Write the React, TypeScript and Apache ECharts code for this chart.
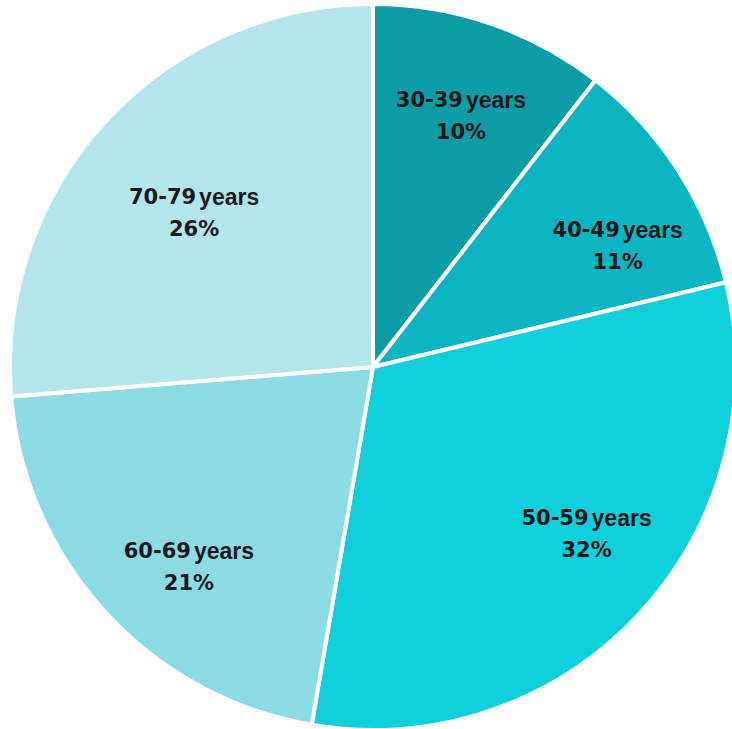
import React, { useEffect, useRef } from "react";
import * as echarts from "echarts";

// Data
const categories = ["30-39", "40-49", "50-59", "60-69", "70-79"];
const values = [10.5, 10.75, 31.45, 21.0, 26.3]; // slice sizes
const shareLabels = ["10%", "11%", "32%", "21%", "26%"]; // percentages printed on the chart
const colors = ["#0b9ca4", "#0bb5c1", "#0fcfdb", "#8bdbe3", "#b3e5ea"];

// Label placement (polar, relative to pie centre)
const CX = 373;
const CY = 367;
const R = 363;
const labelAngles = [19.3, 63.7, 128, 222.6, 310.7];
const labelRadii = [266, 273, 271, 272, 236];

export default function App() {
  const ref = useRef<HTMLDivElement>(null);
  useEffect(() => {
    document.body.style.margin = "0";
    const chart = echarts.init(ref.current!, null, { renderer: "svg" });
    chart.setOption({
      animation: false,
      backgroundColor: "#ffffff",
      series: [
        {
          type: "pie",
          center: [CX, CY],
          radius: [0, R],
          startAngle: 90,
          clockwise: true,
          avoidLabelOverlap: false,
          itemStyle: { borderColor: "#ffffff", borderWidth: 4 },
          label: {
            show: true,
            position: "inside",
            formatter: (p: any) =>
              `{a|${categories[p.dataIndex]}}{b|years}\n{a|${shareLabels[p.dataIndex]}}`,
            lineHeight: 32,
            rich: {
              a: {
                fontFamily: "DejaVu Sans",
                fontWeight: "bold",
                fontSize: 21,
                color: "#15191c",
                lineHeight: 32,
              },
              b: {
                fontFamily: "Liberation Sans",
                fontWeight: "bold",
                fontSize: 23,
                color: "#15191c",
                lineHeight: 32,
                padding: [0, 0, 0, 3],
              },
            },
          },
          labelLine: { show: false },
          labelLayout: (p: any) => {
            const i = p.dataIndex;
            const t = (labelAngles[i] * Math.PI) / 180;
            return {
              x: CX + labelRadii[i] * Math.sin(t),
              y: CY - labelRadii[i] * Math.cos(t),
              align: "center",
              verticalAlign: "middle",
            };
          },
          data: categories.map((c, i) => ({
            name: c,
            value: values[i],
            itemStyle: { color: colors[i] },
          })),
        },
      ],
    });
    return () => chart.dispose();
  }, []);
  return <div ref={ref} style={{ width: 732, height: 729 }} />;
}
